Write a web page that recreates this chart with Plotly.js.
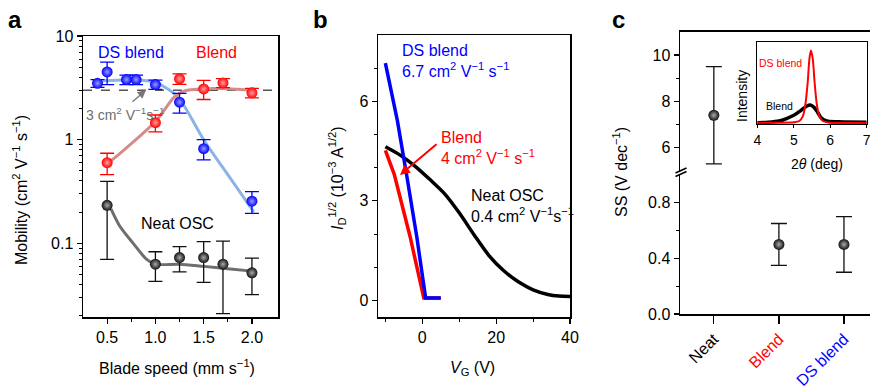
<!DOCTYPE html>
<html><head><meta charset="utf-8">
<script src="https://cdn.plot.ly/plotly-3.0.1.min.js"></script>
<style>html,body{margin:0;padding:0;background:#fff}#chart{width:870px;height:390px}</style>
</head><body><div id="chart"></div>
<script>
// ---------- Panel a: mobility vs blade speed ----------
const speedDS   = [0.4, 0.5, 0.7, 0.8, 1.0, 1.25, 1.5, 2.0];
const mobDS     = [3.5, 4.5, 3.8, 3.8, 3.4, 2.3, 0.82, 0.255];
const errDS     = [0.3, 1.1, 0.4, 0.4, 0.35, 0.5, 0.18, 0.06];
const speedBlend= [0.5, 1.0, 1.25, 1.5, 1.7, 2.0];
const mobBlend  = [0.6, 1.46, 3.86, 3.09, 3.53, 2.83];
const errBlend  = [0.14, 0.27, 0.45, 0.65, 0.35, 0.3];
const speedNeat = [0.5, 1.0, 1.25, 1.5, 1.7, 2.0];
const mobNeat   = [0.233, 0.063, 0.073, 0.073, 0.063, 0.052];
const errNeat   = [0.163, 0.02, 0.02, 0.031, 0.042, 0.02];
const fitDSx    = [0.42, 0.6, 0.8, 1.0, 1.1, 1.2, 1.3, 1.5, 1.75, 2.02];
const fitDSy    = [3.7, 3.75, 3.75, 3.6, 3.2, 2.75, 2.1, 1.0, 0.46, 0.2];
const fitBlendx = [0.5, 1.0, 1.2, 1.3, 1.5, 1.75, 2.0];
const fitBlendy = [0.58, 1.5, 2.6, 2.95, 3.1, 3.1, 3.0];
const fitNeatx  = [0.54, 0.63, 0.77, 0.91, 1.0, 1.25, 1.5, 1.75, 2.0];
const fitNeaty  = [0.215, 0.147, 0.10, 0.070, 0.063, 0.063, 0.06, 0.057, 0.054];
const refMob    = 3;
const speedRange= [0.25, 2.27];

// ---------- Panel b: transfer curves ----------
const vgDS    = [-10, -6.75, -4.2, -1.5, 0.9, 5];
const idDS    = [7.15, 5.42, 3.75, 1.92, 0.07, 0.07];
const vgBlend = [-10, -7.6, -3.3, 0.4, 5];
const idBlend = [4.52, 3.8, 1.92, 0.07, 0.07];
const vgNeat  = [-10, -6, -2, 2, 6, 10, 14, 18, 22, 26, 30, 34, 37, 40];
const idNeat  = [4.63, 4.38, 4.05, 3.65, 3.22, 2.64, 1.98, 1.36, 0.9, 0.56, 0.32, 0.18, 0.13, 0.12];

// ---------- Panel c: subthreshold swing ----------
const ssCats  = ['Neat', 'Blend', 'DS blend'];
const ssVals  = [7.4, 0.5, 0.5];
const ssErr   = [2.1, 0.15, 0.2];
const ssColors= ['#000000', '#ff0000', '#0000ff'];

// ---------- Inset: XRD ----------
const thetaDS = [4, 4.5, 5.0, 5.15, 5.25, 5.32, 5.38, 5.43, 5.47, 5.52, 5.57, 5.63, 5.7, 5.8, 6.0, 7];
const intDS   = [0.02, 0.02, 0.025, 0.04, 0.1, 0.25, 0.5, 0.8, 0.9, 0.8, 0.52, 0.25, 0.1, 0.04, 0.02, 0.02];
const thetaBl = [4, 4.3, 4.6, 4.8, 5.0, 5.2, 5.35, 5.45, 5.55, 5.65, 5.75, 5.9, 6.2, 7];
const intBl   = [0.02, 0.025, 0.04, 0.07, 0.11, 0.17, 0.22, 0.235, 0.21, 0.15, 0.08, 0.04, 0.03, 0.025];

const W = 870, H = 390;
const px = x => x / W, py = y => 1 - y / H;
const FONT = '"Liberation Sans", Arial, sans-serif';
const BLUE = '#0000ff', RED = '#ff0000';

function pts(x, y, err, col, grad, ax, ay, cap) {
  return {x, y, type:'scatter', mode:'markers', xaxis:ax, yaxis:ay,
    marker:{size:11, color:col, gradient:{type:'radial', color:grad}, line:{width:0}},
    error_y:{type:'data', array:err, visible:true, color:col, thickness:1.3, width:cap}};
}
function line(x, y, col, w, ax, ay, shape, dash) {
  return {x, y, type:'scatter', mode:'lines', xaxis:ax, yaxis:ay,
    line:{color:col, width:w, shape:shape||'linear', dash:dash||'solid', smoothing:0.8}};
}

const traces = [
  line(speedRange, [refMob, refMob], '#555555', 1.5, 'x', 'y', 'linear', 'dash'),
  line(fitDSx, fitDSy, '#8ab4e6', 3, 'x', 'y', 'spline'),
  line(fitBlendx, fitBlendy, '#d68a8a', 3, 'x', 'y', 'spline'),
  line(fitNeatx, fitNeaty, '#6e6e6e', 3, 'x', 'y', 'spline'),
  pts(speedDS, mobDS, errDS, BLUE, '#9a9aff', 'x', 'y', 7),
  pts(speedBlend, mobBlend, errBlend, RED, '#ffa0a0', 'x', 'y', 7),
  pts(speedNeat, mobNeat, errNeat, '#111111', '#aaaaaa', 'x', 'y', 7),
  line(vgNeat, idNeat, '#000000', 3.5, 'x2', 'y2', 'spline'),
  line(vgBlend, idBlend, RED, 3.5, 'x2', 'y2'),
  line(vgDS, idDS, BLUE, 3.5, 'x2', 'y2'),
  pts(ssCats.slice(1), ssVals.slice(1), ssErr.slice(1), '#111111', '#aaaaaa', 'x3', 'y3', 8),
  pts(ssCats.slice(0,1), ssVals.slice(0,1), ssErr.slice(0,1), '#111111', '#aaaaaa', 'x4', 'y4', 8),
  line(thetaBl, intBl, '#000000', 3.5, 'x5', 'y5', 'spline'),
  line(thetaDS, intDS, RED, 2, 'x5', 'y5', 'spline')
];

const tf = {family:FONT, size:16, color:'#000'};
function ax(extra) {
  return Object.assign({showline:true, linecolor:'#000', linewidth:1.5, mirror:true,
    ticks:'outside', ticklen:5, tickwidth:1.2, tickcolor:'#000', showgrid:false, zeroline:false,
    tickfont:tf, fixedrange:true}, extra);
}
const minorTicks = vals => ({tickvals:vals, ticks:'outside', ticklen:3, tickwidth:1, tickcolor:'#000', showgrid:false});

const logMinor = [];
[0.01, 0.1, 1].forEach(d => { for (let k = 2; k <= 9; k++) logMinor.push(+(k*d).toFixed(3)); });

const layout = {
  width:W, height:H, margin:{l:0, r:0, t:0, b:0},
  paper_bgcolor:'#fff', plot_bgcolor:'rgba(0,0,0,0)', showlegend:false,
  font:{family:FONT, color:'#000'},
  xaxis: ax({domain:[px(83), px(278)], range:speedRange, anchor:'y',
    tickvals:[0.5, 1.0, 1.5, 2.0], tickformat:'.1f', minor:minorTicks([0.75, 1.25, 1.75])}),
  yaxis: ax({domain:[py(317), py(36)], type:'log', range:[-1.71, 1], anchor:'x',
    tickvals:[0.1, 1, 10], ticktext:['0.1', '1', '10'], minor:minorTicks(logMinor)}),
  xaxis2: ax({domain:[px(378), px(570)], range:[-12, 40], anchor:'y2',
    tickvals:[0, 20, 40], minor:minorTicks([-10, 10, 30])}),
  yaxis2: ax({domain:[py(317), py(35)], range:[-0.5, 8], anchor:'x2',
    tickvals:[0, 3, 6], minor:minorTicks([1, 2, 4, 5, 7])}),
  xaxis3: ax({domain:[px(680), 1], type:'category', categoryorder:'array', categoryarray:ssCats,
    range:[-0.52, 2.4], anchor:'y3', mirror:false, ticklen:8, tickangle:-45,
    tickvals:ssCats, ticktext:ssCats.map((c, i) => '<span style="color:' + ssColors[i] + '">' + c + '</span>')}),
  yaxis3: ax({domain:[py(314), py(174.8)], range:[0, 1.0], anchor:'x3', mirror:false,
    tickvals:[0, 0.4, 0.8], ticktext:['0.0', '0.4', '0.8'], minor:minorTicks([0.2, 0.6])}),
  xaxis4: ax({domain:[px(680), 1], type:'category', categoryorder:'array', categoryarray:ssCats,
    range:[-0.52, 2.4], anchor:'y4', side:'top', mirror:false, ticks:'', showticklabels:false}),
  yaxis4: ax({domain:[py(170.9), py(31.8)], range:[5, 11], anchor:'x4', mirror:false,
    tickvals:[6, 8, 10], minor:minorTicks([7, 9])}),
  xaxis5: ax({domain:[px(757.3), px(866.7)], range:[4, 7], anchor:'y5', linewidth:1,
    tickvals:[4, 5, 6, 7], ticklen:3, ticklabeloverflow:'allow',
    tickfont:{family:FONT, size:14, color:'#000'}}),
  yaxis5: ax({domain:[py(124.3), py(42.3)], range:[0, 1], anchor:'x5', linewidth:1,
    ticks:'', showticklabels:false}),
  shapes: [
    {type:'line', xref:'paper', yref:'paper', x0:px(675.5), y0:py(176.5), x1:px(686.5), y1:py(171.5), line:{color:'#000', width:1.5}},
    {type:'line', xref:'paper', yref:'paper', x0:px(675.5), y0:py(173), x1:px(686.5), y1:py(168), line:{color:'#000', width:1.5}}
  ],
  annotations: []
};

function txt(t, x, y, col, size, opts) {
  layout.annotations.push(Object.assign({text:t, xref:'paper', yref:'paper', x:px(x), y:py(y),
    xanchor:'left', yanchor:'middle', align:'left', showarrow:false,
    font:{family:FONT, size:size, color:col}}, opts || {}));
}
// panel letters
txt('<b>a</b>', 15, 19, '#000', 24, {xanchor:'center'});
txt('<b>b</b>', 320, 19, '#000', 24, {xanchor:'center'});
txt('<b>c</b>', 618, 19, '#000', 24, {xanchor:'center'});
// panel a text
txt('DS blend', 96, 53, BLUE, 16);
txt('Blend', 194, 53, RED, 16);
txt('Neat OSC', 139, 223, '#000', 16);
txt('3 cm<sup>2</sup> V<sup>−1</sup>s<sup>−1</sup>', 84, 114, '#6e6e6e', 14);
layout.annotations.push({text:'', xref:'paper', yref:'paper', x:px(146), y:py(90), ax:-15, ay:13,
  showarrow:true, arrowhead:2, arrowsize:1.2, arrowwidth:1.4, arrowcolor:'#777'});
txt('Mobility (cm<sup>2</sup> V<sup>−1</sup> s<sup>−1</sup>)', 20, 190, '#000', 16, {xanchor:'center', textangle:-90});
txt('Blade speed (mm s<sup>−1</sup>)', 177, 367, '#000', 16, {xanchor:'center'});
// panel b text
txt('DS blend<br>6.7 cm<sup>2</sup> V<sup>−1</sup> s<sup>−1</sup>', 400, 61, BLUE, 16);
txt('Blend<br>4 cm<sup>2</sup> V<sup>−1</sup> s<sup>−1</sup>', 439, 148, RED, 16);
txt('Neat OSC<br>0.4 cm<sup>2</sup> V<sup>−1</sup>s<sup>−1</sup>', 469, 206, '#000', 16);
layout.annotations.push({text:'', xref:'paper', yref:'paper', x:px(400), y:py(175), ax:38, ay:-32,
  showarrow:true, arrowhead:2, arrowsize:1, arrowwidth:2, arrowcolor:RED});
txt('<i>I</i><sub>D</sub><sup>1/2</sup> (10<sup>−3</sup> A<sup>1/2</sup>)', 337, 178, '#000', 16, {xanchor:'center', textangle:-90});
txt('<i>V</i><sub>G</sub> (V)', 472, 368, '#000', 16, {xanchor:'center'});
// panel c text
txt('SS (V dec<sup>−1</sup>)', 620, 172, '#000', 16, {xanchor:'center', textangle:-90});
txt('Intensity', 742, 96, '#000', 14, {xanchor:'center', textangle:-90});
txt('2<i>θ</i> (deg)', 817, 164, '#000', 14, {xanchor:'center'});
txt('DS blend', 757, 63, RED, 10.5);
txt('Blend', 764, 106, '#000', 10.5);

Plotly.newPlot('chart', traces, layout, {staticPlot:true, displayModeBar:false});
</script></body></html>
